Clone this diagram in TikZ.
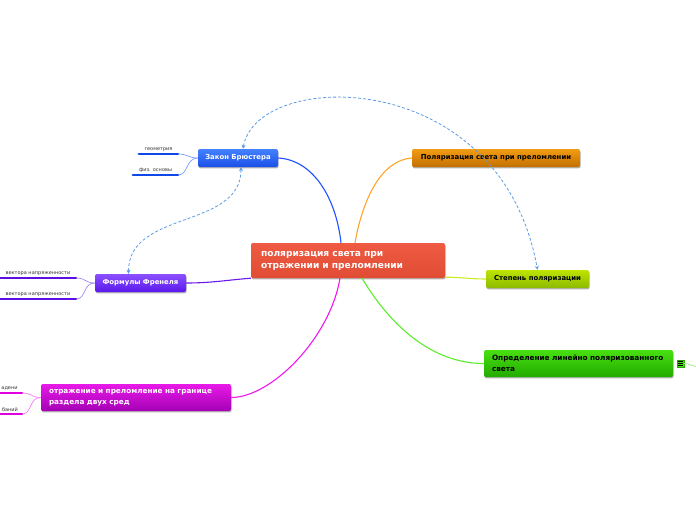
\documentclass[tikz,border=0pt]{standalone}
\usepackage{fontspec}
\setmainfont{DejaVu Sans}
\usetikzlibrary{shadows,calc,arrows.meta}
\definecolor{cenT}{HTML}{EE5A42}\definecolor{cenB}{HTML}{E04C34}
\definecolor{bluT}{HTML}{4482FF}\definecolor{bluB}{HTML}{1A4FE8}
\definecolor{purT}{HTML}{8C50FF}\definecolor{purB}{HTML}{5A18EC}
\definecolor{magT}{HTML}{E81AE8}\definecolor{magB}{HTML}{A400B4}
\definecolor{oraT}{HTML}{F29C14}\definecolor{oraB}{HTML}{C27000}
\definecolor{yelT}{HTML}{BEE400}\definecolor{yelB}{HTML}{8CBA00}
\definecolor{grnT}{HTML}{48E010}\definecolor{grnB}{HTML}{22AA00}
\definecolor{brBlue}{HTML}{1E50FF}\definecolor{brOra}{HTML}{FFA62A}
\definecolor{brYel}{HTML}{CDEB1E}\definecolor{brGrn}{HTML}{5AEE28}
\definecolor{brPur}{HTML}{6A1AEE}\definecolor{brMag}{HTML}{EE18EE}
\definecolor{ulBlue}{HTML}{1048E8}\definecolor{ulPur}{HTML}{5A10E4}\definecolor{ulMag}{HTML}{E000E0}
\definecolor{liBlue}{HTML}{7A9CFF}\definecolor{liPur}{HTML}{A888F4}\definecolor{liMag}{HTML}{F47CF4}
\definecolor{liGrn}{HTML}{9CF07A}
\definecolor{dashc}{HTML}{5A9BE6}
\tikzset{
  topic/.style={rounded corners=2pt, inner sep=0pt, minimum height=18pt,
    font=\bfseries\fontsize{6.9}{9}\selectfont, shading=axis,
    drop shadow={shadow xshift=0.6pt, shadow yshift=-1.4pt, fill=black, opacity=0.3}},
  wide/.style={topic, align=left, inner xsep=8pt},
  subl/.style={anchor=south, inner xsep=0pt, inner ysep=2.2pt, font=\fontsize{5}{6}\selectfont, text=black!80},
  ul/.style={line width=2.4pt, line cap=round},
  br/.style={line width=1.1pt},
  lk/.style={line width=0.7pt},
  dconn/.style={dashc, line width=0.8pt, dash pattern=on 3pt off 2pt, {Stealth[length=4pt,width=4pt]}-{Stealth[length=4pt,width=4pt]}}
}
\begin{document}
\begin{tikzpicture}[x=1pt,y=-1pt]
\useasboundingbox (0,0) rectangle (696,520);
% main nodes
\node[wide, top color=cenT, bottom color=cenB, text=white, minimum width=194pt, minimum height=35pt,
  text width=174pt, inner xsep=10pt, font=\bfseries\fontsize{9.1}{12}\selectfont] (cen) at (348,260.5)
  {поляризация света при\\отражении и преломлении};
\node[topic, top color=bluT, bottom color=bluB, text=white, minimum width=80pt] (brew) at (238,158) {Закон Брюстера};
\node[topic, top color=purT, bottom color=purB, text=white, minimum width=91pt] (fren) at (140.5,283) {Формулы Френеля};
\node[wide, top color=magT, bottom color=magB, text=white, minimum width=190pt, minimum height=27pt,
  text width=174pt, font=\bfseries\fontsize{7.3}{10.5}\selectfont] (otr) at (136,397.5)
  {отражение и преломление на границе\\раздела двух сред};
\node[topic, top color=oraT, bottom color=oraB, text=black, minimum width=168pt] (pol) at (496,158) {Поляризация света при преломлении};
\node[topic, top color=yelT, bottom color=yelB, text=black, minimum width=103pt] (step) at (537.5,279) {Степень поляризации};
\node[wide, top color=grnT, bottom color=grnB, text=black, minimum width=189pt, minimum height=27pt,
  text width=173pt, font=\bfseries\fontsize{7.3}{10.5}\selectfont] (opr) at (578.5,363.5)
  {Определение линейно поляризованного\\света};
% branches
\draw[br, brBlue] ($(cen.north)+(-7,0)$) .. controls +(-5,-45) and +(35,2) .. (brew.east);
\draw[br, brOra] ($(cen.north)+(7,0)$) .. controls +(8,-45) and +(-30,2) .. (pol.west);
\draw[br, brYel] ($(cen.south east)+(0,-1)$) .. controls +(15,0) and +(-15,0) .. (step.west);
\draw[br, brGrn] ($(cen.south)+(14,0)$) .. controls +(30,50) and +(-50,0) .. (opr.west);
\draw[br, brPur] (cen.south west) .. controls +(-25,2) and +(25,0) .. (fren.east);
\draw[br, brMag] ($(cen.south)+(-8,0)$) .. controls +(-10,60) and +(40,0) .. (otr.east);
% subtopics of Brewster
\node[subl, minimum width=39pt] (g1) at (158.5,154) {геометрия};
\node[subl, minimum width=45pt] (g2) at (155.5,175) {физ. основы};
\draw[ul, ulBlue] (g1.south west) -- (g1.south east);
\draw[ul, ulBlue] (g2.south west) -- (g2.south east);
\draw[lk, liBlue] (brew.west) .. controls +(-10,0) and +(10,0) .. (g1.south east);
\draw[lk, liBlue] (brew.west) .. controls +(-12,0) and +(10,0) .. (g2.south east);
% subtopics of Fresnel
\node[subl, minimum width=76pt] (f1) at (38,278) {вектора напряженности};
\node[subl, minimum width=76pt] (f2) at (38,299) {вектора напряженности};
\draw[ul, ulPur] (f1.south west) -- (f1.south east);
\draw[ul, ulPur] (f2.south west) -- (f2.south east);
\draw[lk, liPur] (fren.west) .. controls +(-10,0) and +(10,0) .. (f1.south east);
\draw[lk, liPur] (fren.west) .. controls +(-12,0) and +(10,0) .. (f2.south east);
% subtopics of reflection
\node[subl, minimum width=22pt, align=right, inner xsep=0pt] (o1) at (11,393) {\hfill адени\hspace{3pt}};
\node[subl, minimum width=22pt] (o2) at (11,414) {\hspace{-2pt}баний};
\draw[ul, ulMag] ($(o1.south west)+(-3,0)$) -- (o1.south east);
\draw[ul, ulMag] ($(o2.south west)+(-3,0)$) -- (o2.south east);
\draw[lk, liMag] (otr.west) .. controls +(-10,0) and +(10,0) .. (o1.south east);
\draw[lk, liMag] (otr.west) .. controls +(-12,0) and +(10,0) .. (o2.south east);
% icon on the right
\node[draw=grnB, fill=grnT, line width=0.4pt, minimum size=7pt, inner sep=0pt,
  path picture={\foreach \yy in {-1.7,0,1.7}{\draw[black, line width=0.7pt] ($(path picture bounding box.center)+(-2.2,\yy)$) -- +(4.4,0);}}] (ic) at (680.5,363.5) {};
\coordinate (icend) at (696,366.5);
\draw[lk, liGrn] (ic.east) .. controls +(6,0) and +(-4,0) .. (icend);
% dashed relations
\draw[dconn] ($(brew.north)+(5,0)$) .. controls +(14,-80) and +(-37,-205) .. (step.north);
\draw[dconn] ($(brew.south)+(3,0)$) .. controls +(0,62) and +(0,-64) .. ($(fren.north)+(-12,0)$);
\end{tikzpicture}
\end{document}
